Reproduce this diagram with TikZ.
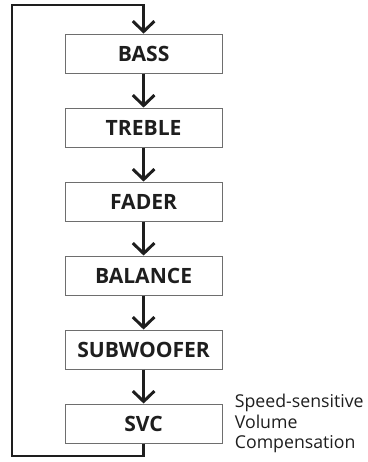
\documentclass[tikz,border=0pt]{standalone}
\usepackage{fontspec}
\setmainfont{Open Sans}
\definecolor{boxgray}{RGB}{110,110,110}
\definecolor{inkblack}{RGB}{30,30,30}
\usetikzlibrary{arrows.meta, positioning}

\begin{document}
\begin{tikzpicture}[
    stage/.style={draw=boxgray, line width=0.7pt, minimum width=3.925cm, minimum height=0.975cm,
                  inner sep=0pt, font=\fontsize{15}{17}\selectfont\bfseries, text=inkblack},
    flow/.style={draw=inkblack, line width=2.1pt,
                 -{Straight Barb[length=2.6mm, width=5.4mm, line width=2.1pt]}},
    note/.style={font=\fontsize{12.6}{14.6}\selectfont, text=inkblack, align=left, anchor=west,
                 inner sep=0pt}
  ]
  \useasboundingbox (0,0) rectangle (9.175,11.55);

  % --- stages ---
  \node[stage] (bass) at (3.59,10.21) {BASS};
  \node[stage, below=0.85cm of bass] (treble) {TREBLE};
  \node[stage, below=0.85cm of treble] (fader) {FADER};
  \node[stage, below=0.85cm of fader] (balance) {BALANCE};
  \node[stage, below=0.85cm of balance] (subwoofer) {SUBWOOFER};
  \node[stage, below=0.85cm of subwoofer] (svc) {SVC};
  \node[note, right=0.3cm of svc] (svcnote) {Speed-sensitive\\Volume\\Compensation};

  % --- arrows ---
  \draw[flow] (bass) -- (treble);
  \draw[flow] (treble) -- (fader);
  \draw[flow] (fader) -- (balance);
  \draw[flow] (balance) -- (subwoofer);
  \draw[flow] (subwoofer) -- (svc);

  % return loop
  \coordinate (lowleft) at (0.3,0.15);
  \coordinate (topleft) at (0.3,11.425);
  \draw[flow] (svc.south) |- (lowleft) -- (topleft) -| (bass.north);
\end{tikzpicture}
\end{document}
